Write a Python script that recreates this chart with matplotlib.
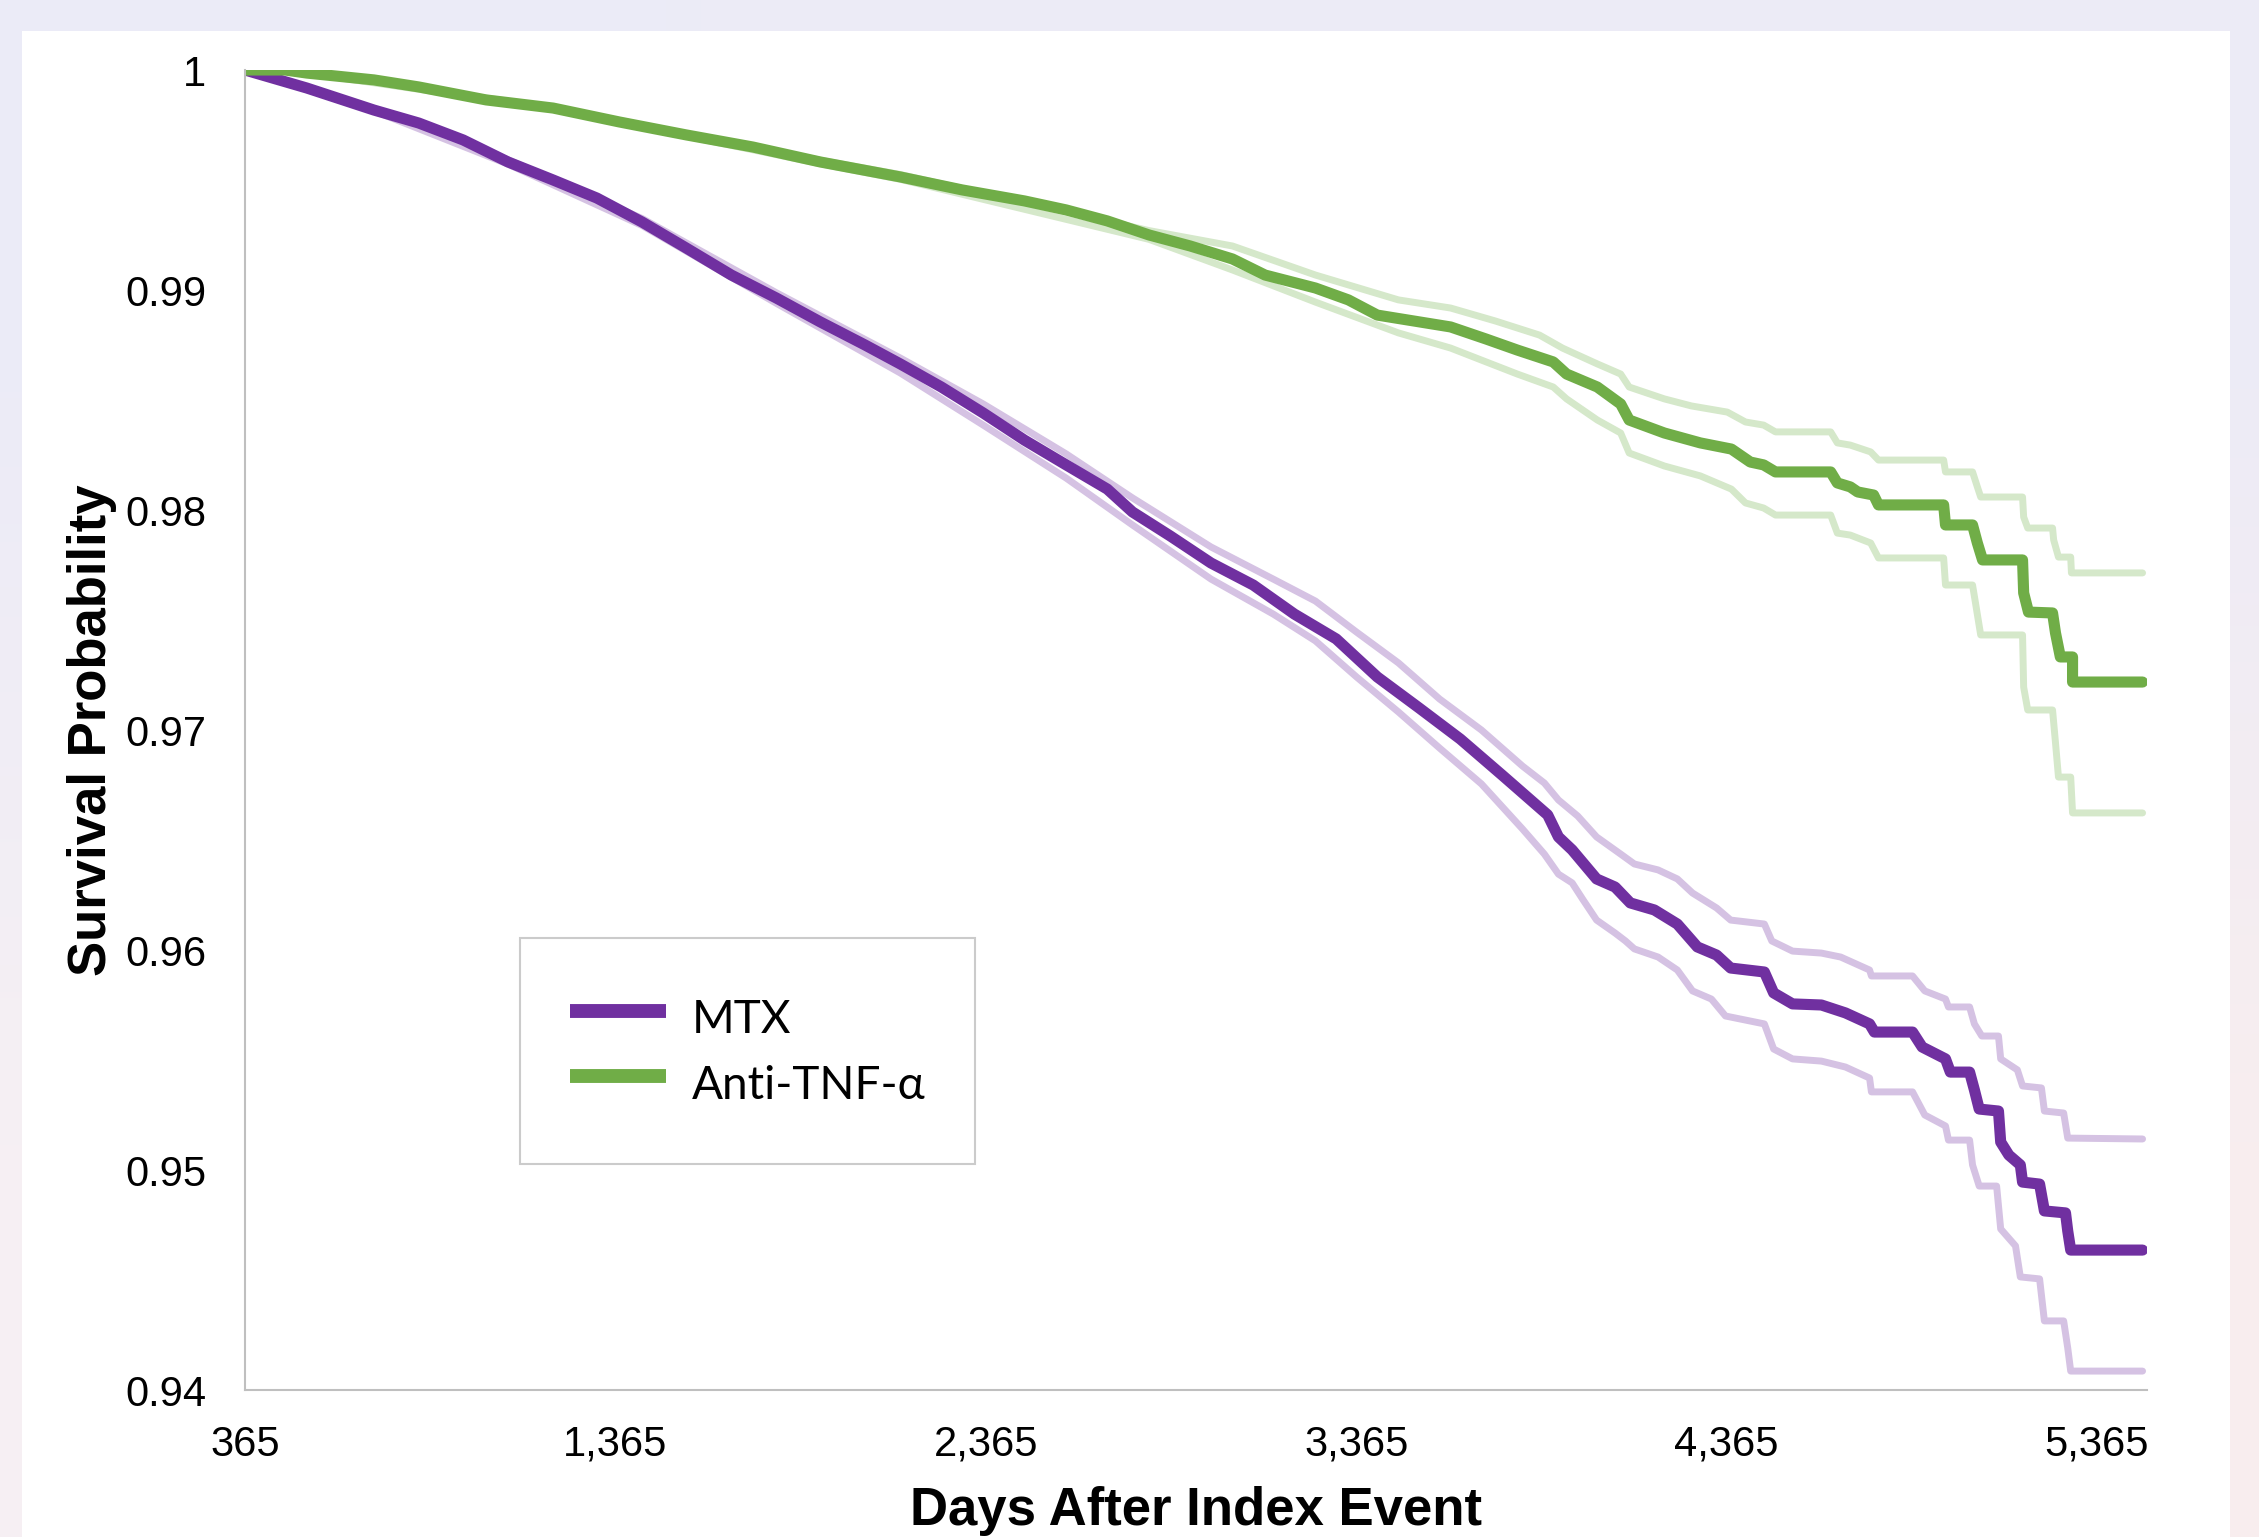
import numpy as np
import matplotlib
matplotlib.use("Agg")
import matplotlib.pyplot as plt
from matplotlib.patches import Rectangle

# --- data ---
mtx_days = [365, 532, 713, 834, 954, 1075, 1197, 1315, 1437, 1556, 1678, 1799, 1918, 2039,
            2134, 2245, 2358, 2469, 2582, 2693, 2761, 2863, 2973, 3087, 3198, 3311, 3422, 3535,
            3646, 3759, 3882, 3911, 3948, 4014, 4064, 4105, 4170, 4232, 4286, 4338, 4376, 4467,
            4492, 4543, 4621, 4686, 4751, 4764, 4867, 4893, 4956, 4969, 5021, 5034, 5047, 5099,
            5105, 5127, 5158, 5164, 5210, 5223, 5280, 5286, 5294, 5488]
mtx_surv = [1.0, 0.99918, 0.99818, 0.99759, 0.99682, 0.99582, 0.99500, 0.99418, 0.99309, 0.99191,
            0.99068, 0.98964, 0.98855, 0.98750, 0.98664, 0.98559, 0.98441, 0.98318, 0.98205,
            0.98095, 0.97991, 0.97882, 0.97759, 0.97659, 0.97527, 0.97414, 0.97241, 0.97100,
            0.96959, 0.96795, 0.96614, 0.96514, 0.96455, 0.96323, 0.96286, 0.96214, 0.96182,
            0.96118, 0.96014, 0.95977, 0.95918, 0.95900, 0.95805, 0.95755, 0.95750, 0.95714,
            0.95664, 0.95627, 0.95627, 0.95559, 0.95505, 0.95445, 0.95445, 0.95364, 0.95277,
            0.95268, 0.95127, 0.95068, 0.95023, 0.94945, 0.94936, 0.94814, 0.94805, 0.94723,
            0.94636, 0.94636]

mtx_hi_days = [365, 713, 1075, 1437, 1799, 2134, 2358, 2582, 2761, 2973, 3141, 3255, 3366, 3479,
               3590, 3703, 3814, 3873, 3911, 3963, 4014, 4079, 4116, 4180, 4232, 4273, 4338, 4376,
               4467, 4487, 4543, 4621, 4673, 4751, 4756, 4867, 4900, 4956, 4964, 5021, 5034, 5054,
               5099, 5105, 5150, 5164, 5215, 5223, 5275, 5286, 5488]
mtx_hi = [1.0, 0.99822, 0.99592, 0.99325, 0.98988, 0.98691, 0.98482, 0.98255, 0.98055, 0.97832,
          0.97686, 0.97586, 0.97445, 0.97305, 0.97141, 0.97000, 0.96836, 0.96759, 0.96682, 0.96609,
          0.96514, 0.96436, 0.96391, 0.96364, 0.96323, 0.96259, 0.96191, 0.96136, 0.96118, 0.96041,
          0.95995, 0.95986, 0.95968, 0.95909, 0.95882, 0.95882, 0.95814, 0.95777, 0.95741, 0.95741,
          0.95664, 0.95609, 0.95609, 0.95505, 0.95455, 0.95382, 0.95373, 0.95268, 0.95259, 0.95145,
          0.95141]

mtx_lo_days = [365, 713, 1075, 1437, 1799, 2134, 2358, 2582, 2761, 2973, 3141, 3255, 3366, 3479,
               3590, 3703, 3814, 3873, 3911, 3948, 3976, 4014, 4064, 4092, 4116, 4180, 4232, 4273,
               4324, 4362, 4467, 4492, 4543, 4621, 4686, 4751, 4756, 4867, 4900, 4956, 4964, 5021,
               5029, 5047, 5094, 5105, 5145, 5158, 5210, 5223, 5275, 5286, 5294, 5488]
mtx_lo = [1.0, 0.99814, 0.99572, 0.99293, 0.98940, 0.98623, 0.98386, 0.98145, 0.97932, 0.97686,
          0.97527, 0.97405, 0.97241, 0.97082, 0.96918, 0.96755, 0.96550, 0.96436, 0.96345, 0.96305,
          0.96232, 0.96136, 0.96077, 0.96041, 0.96005, 0.95968, 0.95909, 0.95814, 0.95777, 0.95700,
          0.95664, 0.95550, 0.95505, 0.95495, 0.95468, 0.95418, 0.95355, 0.95355, 0.95250, 0.95200,
          0.95136, 0.95136, 0.95023, 0.94927, 0.94927, 0.94732, 0.94655, 0.94514, 0.94505, 0.94314,
          0.94314, 0.94191, 0.94086, 0.94086]

tnf_days = [365, 473, 532, 713, 834, 1016, 1197, 1375, 1556, 1736, 1918, 2134, 2301, 2469, 2582,
            2693, 2806, 2917, 3031, 3119, 3255, 3344, 3422, 3620, 3716, 3800, 3897, 3933, 4016,
            4079, 4102, 4197, 4294, 4378, 4429, 4465, 4497, 4646, 4664, 4699, 4719, 4762, 4775,
            4951, 4956, 5029, 5042, 5056, 5164, 5167, 5180, 5245, 5253, 5266, 5299, 5299, 5488]
tnf_surv = [1.0, 1.0, 0.99986, 0.99955, 0.99923, 0.99864, 0.99827, 0.99764, 0.99705, 0.99650,
            0.99582, 0.99514, 0.99455, 0.99405, 0.99364, 0.99314, 0.99250, 0.99200, 0.99141,
            0.99068, 0.99009, 0.98955, 0.98886, 0.98832, 0.98777, 0.98727, 0.98673, 0.98618,
            0.98559, 0.98482, 0.98409, 0.98350, 0.98305, 0.98277, 0.98218, 0.98205, 0.98173,
            0.98173, 0.98123, 0.98105, 0.98082, 0.98068, 0.98023, 0.98023, 0.97932, 0.97932,
            0.97850, 0.97773, 0.97773, 0.97623, 0.97536, 0.97532, 0.97441, 0.97332, 0.97332,
            0.97218, 0.97218]

tnf_hi_days = [365, 473, 1197, 1918, 2134, 2806, 3031, 3255, 3479, 3620, 3741, 3860, 3922, 4016,
               4079, 4102, 4197, 4270, 4367, 4416, 4465, 4497, 4646, 4664, 4699, 4754, 4775, 4951,
               4956, 5029, 5042, 5051, 5164, 5167, 5178, 5245, 5248, 5261, 5294, 5296, 5488]
tnf_hi = [1.0, 1.0, 0.99830, 0.99590, 0.99525, 0.99270, 0.99200, 0.99068, 0.98955, 0.98918,
          0.98859, 0.98795, 0.98736, 0.98664, 0.98618, 0.98559, 0.98505, 0.98473, 0.98445, 0.98400,
          0.98386, 0.98355, 0.98355, 0.98305, 0.98295, 0.98264, 0.98227, 0.98227, 0.98173, 0.98173,
          0.98105, 0.98059, 0.98059, 0.97968, 0.97918, 0.97918, 0.97864, 0.97786, 0.97786, 0.97714,
          0.97714]

tnf_lo_days = [365, 473, 1197, 1918, 2134, 2806, 3031, 3255, 3479, 3620, 3716, 3800, 3897, 3933,
               4016, 4079, 4102, 4197, 4294, 4378, 4416, 4465, 4497, 4646, 4664, 4699, 4754, 4775,
               4951, 4956, 5029, 5037, 5051, 5164, 5167, 5178, 5245, 5253, 5261, 5294, 5299, 5488]
tnf_lo = [1.0, 1.0, 0.99824, 0.99574, 0.99503, 0.99230, 0.99091, 0.98945, 0.98805, 0.98736,
          0.98673, 0.98618, 0.98559, 0.98505, 0.98409, 0.98350, 0.98259, 0.98200, 0.98155, 0.98095,
          0.98032, 0.98009, 0.97977, 0.97977, 0.97895, 0.97886, 0.97850, 0.97782, 0.97782, 0.97659,
          0.97659, 0.97577, 0.97432, 0.97432, 0.97195, 0.97091, 0.97091, 0.96941, 0.96786, 0.96786,
          0.96623, 0.96623]

x_ticks = [365, 1365, 2365, 3365, 4365, 5365]
x_labels = ["365", "1,365", "2,365", "3,365", "4,365", "5,365"]
y_ticks = [0.94, 0.95, 0.96, 0.97, 0.98, 0.99, 1.0]
y_labels = ["0.94", "0.95", "0.96", "0.97", "0.98", "0.99", "1"]

purple, purple_light = "#7030A0", "#D5C2E3"
green, green_light = "#70AD47", "#D5E8CA"

W, H = 2259, 1537
fig = plt.figure(figsize=(W / 100, H / 100), dpi=100)

# soft gradient background + white card
bg = fig.add_axes([0, 0, 1, 1], zorder=-10)
grad = np.array([[[0.925, 0.922, 0.969], [0.929, 0.922, 0.965]],
                 [[0.965, 0.941, 0.953], [0.973, 0.933, 0.937]]])
bg.imshow(grad, aspect="auto", interpolation="bilinear", extent=[0, 1, 0, 1])
bg.axis("off")
fig.patches.append(Rectangle((22 / W, 0), (2230 - 22) / W, 1 - 31 / H,
                             transform=fig.transFigure, facecolor="white",
                             edgecolor="none", zorder=-5))

ax = fig.add_axes([245 / W, 1 - 1390 / H, (2147 - 245) / W, (1390 - 70) / H])
ax.set_facecolor("none")

ci_kw = dict(linewidth=5, solid_capstyle="round", solid_joinstyle="round")
main_kw = dict(linewidth=8, solid_capstyle="round", solid_joinstyle="round")

ax.plot(tnf_hi_days, tnf_hi, color=green_light, **ci_kw)
ax.plot(tnf_lo_days, tnf_lo, color=green_light, **ci_kw)
ax.plot(mtx_hi_days, mtx_hi, color=purple_light, **ci_kw)
ax.plot(mtx_lo_days, mtx_lo, color=purple_light, **ci_kw)
ax.plot(mtx_days, mtx_surv, color=purple, label="MTX", **main_kw)
ax.plot(tnf_days, tnf_surv, color=green, label="Anti-TNF-α", **main_kw)

ax.set_xlim(365, 5500)
ax.set_ylim(0.94, 1.0)
ax.set_xticks(x_ticks)
ax.set_xticklabels(x_labels)
ax.set_yticks(y_ticks)
ax.set_yticklabels(y_labels)
ax.tick_params(length=0, labelsize=30)
ax.tick_params(axis="y", pad=28)
ax.tick_params(axis="x", pad=25)
for lab in ax.get_xticklabels() + ax.get_yticklabels():
    lab.set_fontfamily("Liberation Sans")

for s in ["top", "right"]:
    ax.spines[s].set_visible(False)
for s in ["left", "bottom"]:
    ax.spines[s].set_color("#BFBFBF")
    ax.spines[s].set_linewidth(1.5)

ax.set_xlabel("Days After Index Event", fontsize=38, fontweight="bold",
              family="Liberation Sans", labelpad=15)
ax.set_ylabel("Survival Probability", fontsize=38, fontweight="bold",
              family="Liberation Sans", labelpad=6)

leg = ax.legend(loc="upper left", bbox_to_anchor=(520 / W, 1 - 938 / H),
                bbox_transform=fig.transFigure, borderaxespad=0,
                prop={"family": ["Lato", "DejaVu Sans"], "size": 33},
                frameon=True, fancybox=False, edgecolor="#BFBFBF",
                borderpad=1.09, handlelength=2.1, handleheight=1.66,
                handletextpad=0.55, labelspacing=0.1)
leg.get_frame().set_linewidth(1.5)
for ln in leg.get_lines():
    ln.set_linewidth(10)
    ln.set_solid_capstyle("butt")

fig.savefig("out.png", dpi=100)
